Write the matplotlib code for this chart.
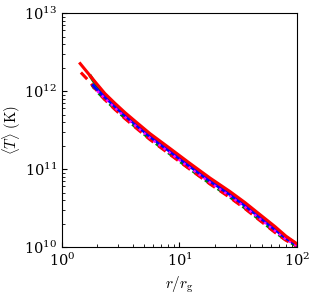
import matplotlib

matplotlib.use("Agg")
import matplotlib.pyplot as plt

plt.rcParams["mathtext.fontset"] = "cm"
plt.rcParams["font.family"] = "serif"
plt.rcParams["font.serif"] = ["DejaVu Serif"]

# radius in units of r_g and mean temperature in K
r_grid = [1.91, 2.32, 2.83, 3.44, 4.18, 5.61, 8.3, 12.3, 18.2, 26.9, 36.1, 48.4, 65.0, 80.6, 100.0]

r_red = [1.43] + r_grid
T_red = [2.25e12, 1.32e12, 9.3e11, 6.95e11, 5.3e11, 4.13e11, 2.85e11, 1.84e11, 1.18e11,
         7.67e10, 5.15e10, 3.72e10, 2.61e10, 1.83e10, 1.38e10, 1.1e10]

r_red_dash = [1.45, 1.71] + r_grid
T_red_dash = [1.73e12, 1.33e12, 1.08e12, 7.75e11, 5.8e11, 4.44e11, 3.46e11, 2.39e11, 1.54e11,
              9.9e10, 6.43e10, 4.31e10, 3.11e10, 2.19e10, 1.54e10, 1.22e10, 1.02e10]

r_green = [1.75] + r_grid
T_green = [1.55e12, 1.26e12, 8.9e11, 6.65e11, 5.08e11, 3.95e11, 2.73e11, 1.76e11, 1.13e11,
           7.33e10, 4.92e10, 3.55e10, 2.5e10, 1.75e10, 1.34e10, 1.08e10]

r_green_dash = [1.8] + r_grid
T_green_dash = [1.2e12, 1.05e12, 7.8e11, 5.89e11, 4.51e11, 3.52e11, 2.43e11, 1.56e11, 1.0e11,
                6.53e10, 4.38e10, 3.16e10, 2.22e10, 1.56e10, 1.23e10, 1.03e10]

r_blue = [1.85] + r_grid
T_blue = [1.18e12, 1.11e12, 8.38e11, 6.33e11, 4.85e11, 3.78e11, 2.61e11, 1.68e11, 1.08e11,
          7.02e10, 4.71e10, 3.40e10, 2.39e10, 1.68e10, 1.30e10, 1.06e10]

r_mag = [2.0] + r_grid[1:]
T_mag = [1.0e12, 8.02e11, 6.06e11, 4.64e11, 3.62e11, 2.5e11, 1.61e11, 1.03e11,
         6.72e10, 4.51e10, 3.25e10, 2.29e10, 1.61e10, 1.25e10, 1.04e10]

fig = plt.figure(figsize=(3.16, 2.97), dpi=100)
ax = fig.add_axes([0.196, 0.168, 0.744, 0.788])

ax.loglog(r_green_dash, T_green_dash, color="green", lw=2.2, ls=(1.5, (3, 2)))
ax.loglog(r_red_dash, T_red_dash, color="red", lw=2.2, ls=(0, (3, 2)))
ax.loglog(r_green, T_green, color="green", lw=2.4)
ax.loglog(r_blue, T_blue, color="blue", lw=2.2)
ax.loglog(r_mag, T_mag, color="magenta", lw=1.8, ls=(0, (1, 1.5)))
ax.loglog(r_red, T_red, color="red", lw=2.2)

ax.set_xlim(1, 100)
ax.set_ylim(1e10, 1e13)
ax.set_xlabel(r"$r/r_{\rm g}$", fontsize=11)
ax.set_ylabel(r"$\langle T\rangle\ (\mathrm{K})$", fontsize=10.5, labelpad=1)
ax.tick_params(which="both", direction="in", labelsize=10.5)
ax.tick_params(which="major", length=3.5)
ax.tick_params(which="minor", length=2)

fig.savefig("out.png", dpi=100)
